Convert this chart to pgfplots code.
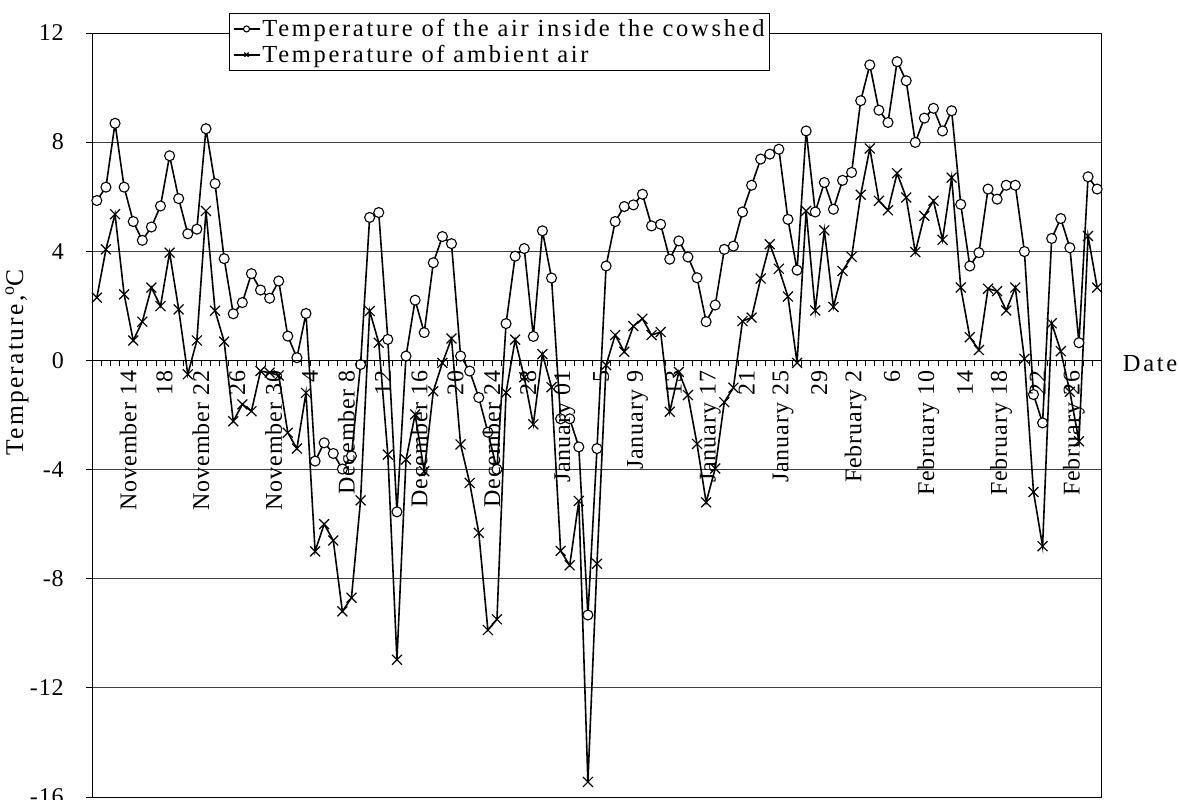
\documentclass[border=0pt]{standalone}
\usepackage{pgfplots}
\pgfplotsset{compat=1.18}
\usepackage{pgfplotstable}
\usepackage{fontspec}
\setmainfont{Liberation Serif}
\newfontfamily\tickfont[LetterSpace=4]{Liberation Serif}
\newfontfamily\legfont[LetterSpace=11]{Liberation Serif}
\newfontfamily\ylabfont[LetterSpace=9]{Liberation Serif}

\pgfplotstableread{
i in amb
0 5.86 2.30
1 6.35 4.07
2 8.69 5.36
3 6.35 2.42
4 5.09 0.73
5 4.40 1.42
6 4.89 2.67
7 5.66 1.99
8 7.50 3.95
9 5.93 1.87
10 4.64 -0.51
11 4.81 0.73
12 8.49 5.48
13 6.48 1.82
14 3.73 0.69
15 1.71 -2.23
16 2.12 -1.61
17 3.18 -1.86
18 2.58 -0.39
19 2.28 -0.45
20 2.91 -0.55
21 0.89 -2.65
22 0.10 -3.23
23 1.72 -1.19
24 -3.69 -7.00
25 -3.02 -6.00
26 -3.41 -6.60
27 -3.98 -9.20
28 -3.50 -8.70
29 -0.15 -5.13
30 5.24 1.81
31 5.42 0.65
32 0.77 -3.45
33 -5.55 -10.97
34 0.16 -3.63
35 2.21 -1.98
36 1.02 -4.06
37 3.58 -1.13
38 4.54 -0.09
39 4.28 0.80
40 0.16 -3.08
41 -0.39 -4.49
42 -1.36 -6.32
43 -2.63 -9.88
44 -3.99 -9.49
45 1.35 -1.18
46 3.82 0.76
47 4.10 -0.62
48 0.88 -2.34
49 4.75 0.23
50 3.02 -0.98
51 -2.14 -6.98
52 -2.14 -7.51
53 -3.17 -5.15
54 -9.33 -15.45
55 -3.23 -7.45
56 3.46 -0.17
57 5.09 0.93
58 5.64 0.32
59 5.70 1.26
60 6.09 1.53
61 4.93 0.93
62 4.99 1.04
63 3.71 -1.88
64 4.38 -0.42
65 3.79 -1.27
66 3.03 -3.06
67 1.42 -5.20
68 2.03 -3.96
69 4.07 -1.53
70 4.19 -1.00
71 5.44 1.44
72 6.42 1.57
73 7.38 3.00
74 7.56 4.26
75 7.74 3.36
76 5.17 2.34
77 3.31 -0.09
78 8.41 5.48
79 5.44 1.83
80 6.52 4.77
81 5.54 1.96
82 6.60 3.28
83 6.89 3.80
84 9.52 6.07
85 10.83 7.77
86 9.17 5.85
87 8.72 5.50
88 10.95 6.86
89 10.25 5.97
90 7.99 3.97
91 8.88 5.30
92 9.24 5.85
93 8.41 4.42
94 9.15 6.70
95 5.72 2.67
96 3.46 0.85
97 3.95 0.38
98 6.28 2.63
99 5.91 2.54
100 6.42 1.83
101 6.42 2.67
102 3.99 0.06
103 -1.25 -4.82
104 -2.29 -6.81
105 4.47 1.36
106 5.20 0.34
107 4.13 -1.15
108 0.65 -2.96
109 6.73 4.56
110 6.28 2.67
}\datatable

\newcommand{\chartfont}{\tickfont\fontsize{24}{28}\selectfont}
\newcommand{\legendfont}{\legfont\fontsize{24.5}{29}\selectfont}

\begin{document}
\begin{tikzpicture}
\begin{axis}[name=ax,
  scale only axis, width=1009.4pt, height=764pt,
  xmin=-0.5, xmax=110.5, ymin=-16, ymax=12,
  xtick=\empty,
  ytick={-16,-12,...,12},
  ytick pos=left, tick align=outside, major tick length=6pt,
  ymajorgrids, grid style={black!75, line width=0.9pt},
  axis line style={black, line width=0.9pt},
  every tick/.style={black, line width=0.9pt},
  tick label style={font=\chartfont},
  /pgf/number format/assume math mode=true,
  yticklabel style={xshift=-19pt},
  ylabel={Temperature,\textsuperscript{o}C},
  ylabel style={at={(axis description cs:-0.0746,0.569)}, anchor=center, font=\ylabfont\fontsize{25.5}{30}\selectfont},
  legend style={at={(axis description cs:0.1357,1.026)}, anchor=north west,
    draw=black, line width=0.9pt, fill=white, font=\legendfont,
    inner xsep=3pt, inner ysep=4pt, row sep=3pt,
    /tikz/every even column/.style={column sep=4pt}},
  legend cell align=left,
  legend image code/.code={\draw[mark repeat=2,mark phase=2,#1, mark size=3pt] plot coordinates {(0pt,0pt)(13pt,0pt)(26pt,0pt)};},
]
\addplot[black, line width=1.6pt, mark=*, mark size=5pt, mark options={fill=white, draw=black, line width=1.1pt, solid}] table[x=i, y=in] {\datatable};
\addlegendentry{Temperature of the air inside the cowshed}
\addplot[black, line width=1.6pt, mark=x, mark size=7pt, mark options={line width=1.2pt, solid}] table[x=i, y=amb] {\datatable};
\addlegendentry{Temperature of ambient air}
\end{axis}
\begin{axis}[
  at={(ax.north west)}, anchor=north west,
  scale only axis, width=1009.4pt, height=327.43pt,
  xmin=-0.5, xmax=110.5, ymin=0, ymax=12,
  clip=false,
  axis x line*=bottom, axis y line=none,
  x axis line style={black, line width=0.9pt},
  xtick={-0.5,0.5,...,110.5}, xticklabels={},
  tick align=outside, major tick length=6pt,
  xtick style={black, line width=0.9pt},
  extra x ticks={4,8,...,108},
  extra x tick labels={November 14,18,November 22,26,November 30,4,December 8,12,December 16,20,December 24,28,January 01,5,January 9,13,January 17,21,January 25,29,February 2,6,February 10,14,February 18,22,February 26},
  extra x tick style={major tick length=0pt,
    xticklabel style={yshift=-10pt, xshift=-5pt, rotate=90, anchor=east, inner sep=0pt, font=\chartfont}},
]
\addplot[draw=none] coordinates {(0,0)};
\node[anchor=west, font=\legendfont, inner sep=0pt] at (axis cs:110.5,0) [xshift=21pt, yshift=-3pt] {Date};
\end{axis}
\pgfresetboundingbox
\path[use as bounding box] ([shift={(-92.3pt,-3pt)}]ax.south west) rectangle ([shift={(1086.7pt,797pt)}]ax.south west);
\end{tikzpicture}
\end{document}
